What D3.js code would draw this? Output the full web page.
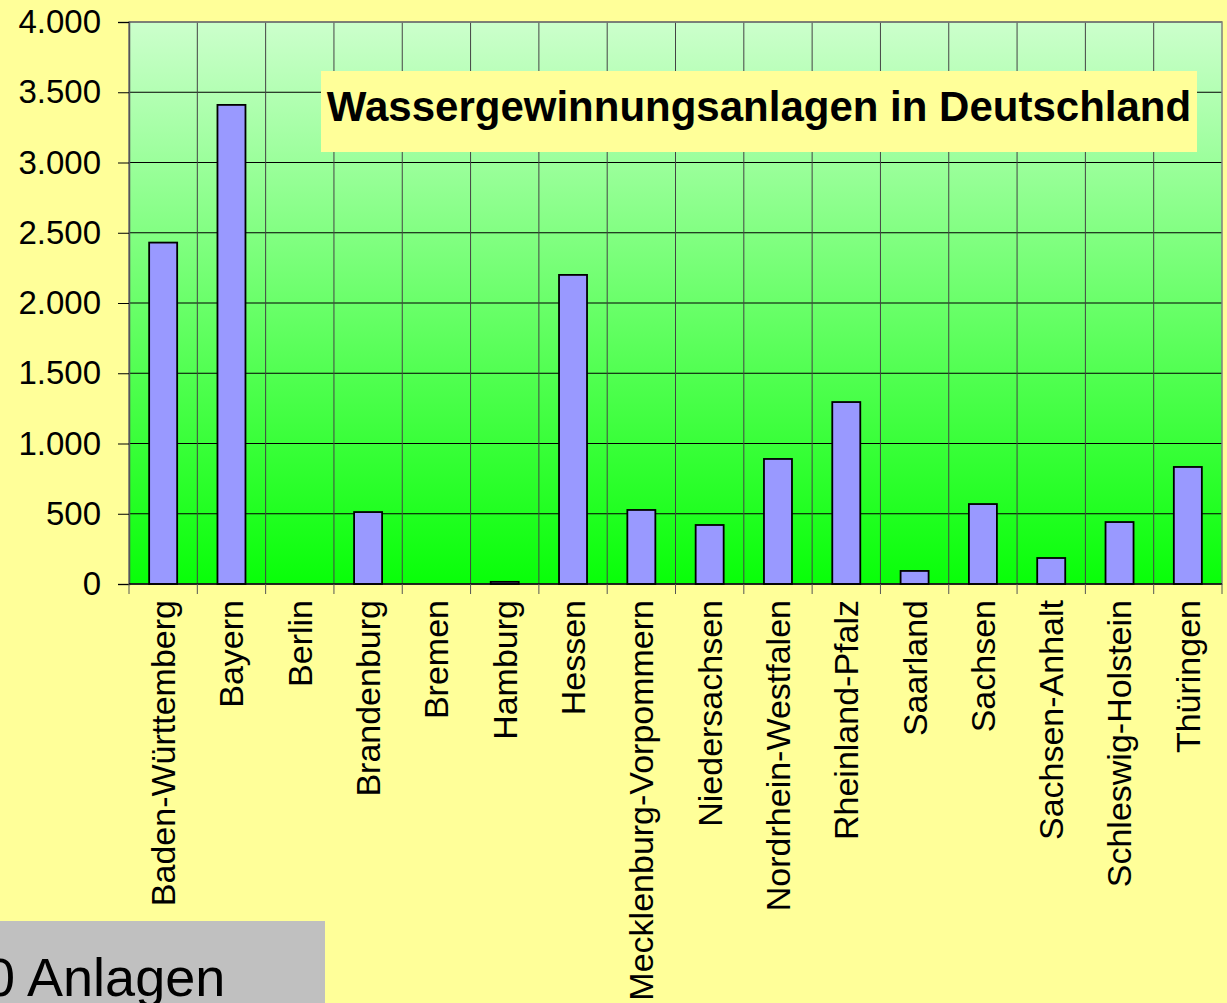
<!DOCTYPE html>
<html>
<head>
<meta charset="utf-8">
<script src="https://cdn.jsdelivr.net/npm/d3@7"></script>
<style>
  html, body { margin: 0; padding: 0; background: #ffff99; overflow: hidden; }
  svg { display: block; }
</style>
</head>
<body>
<div id="main"></div>
<script>
// data
var states = ["Baden-Württemberg", "Bayern", "Berlin", "Brandenburg", "Bremen", "Hamburg", "Hessen",
  "Mecklenburg-Vorpommern", "Niedersachsen", "Nordrhein-Westfalen", "Rheinland-Pfalz", "Saarland",
  "Sachsen", "Sachsen-Anhalt", "Schleswig-Holstein", "Thüringen"];
var anlagen = [2430, 3410, 0, 512, 0, 15, 2200, 527, 420, 890, 1295, 93, 569, 185, 441, 833];
var yTicks = [0, 500, 1000, 1500, 2000, 2500, 3000, 3500, 4000];
var title = "Wassergewinnungsanlagen in Deutschland";
var footnote = "0 Anlagen";

// layout
var width = 1227, height = 1003;
var plotLeft = 129, plotRight = 1222, plotTop = 22, plotBottom = 584;
var font = "Arial, 'Liberation Sans', sans-serif";

var svg = d3.select("#main").append("svg")
    .attr("width", width)
    .attr("height", height);

svg.append("rect")
    .attr("width", width).attr("height", height)
    .attr("fill", "#ffff99");

var grad = svg.append("defs").append("linearGradient")
    .attr("id", "bg")
    .attr("x1", 0).attr("y1", 0).attr("x2", 0).attr("y2", 1);
grad.append("stop").attr("offset", "0%").attr("stop-color", "#ccffcc");
grad.append("stop").attr("offset", "100%").attr("stop-color", "#08ff08");

var x = d3.scaleBand().domain(states).range([plotLeft, plotRight]).paddingInner(0).paddingOuter(0);
var y = d3.scaleLinear().domain([0, 4000]).range([plotBottom, plotTop]);

svg.append("rect")
    .attr("x", plotLeft).attr("y", plotTop)
    .attr("width", plotRight - plotLeft).attr("height", plotBottom - plotTop)
    .attr("fill", "url(#bg)");

// horizontal gridlines
svg.append("g").selectAll("line")
    .data(yTicks.slice(1))
    .join("line")
    .attr("x1", plotLeft).attr("x2", plotRight)
    .attr("y1", d => y(d)).attr("y2", d => y(d))
    .attr("stroke", "#000").attr("stroke-width", 1);

// vertical gridlines at category boundaries
svg.append("g").selectAll("line")
    .data(states.slice(1))
    .join("line")
    .attr("x1", d => x(d)).attr("x2", d => x(d))
    .attr("y1", plotTop).attr("y2", plotBottom)
    .attr("stroke", "#444").attr("stroke-width", 1);

// plot frame
svg.append("rect")
    .attr("x", plotLeft).attr("y", plotTop)
    .attr("width", plotRight - plotLeft).attr("height", plotBottom - plotTop)
    .attr("fill", "none").attr("stroke", "#808080").attr("stroke-width", 1.5);

// bars
var bw = x.bandwidth() * 0.41;
svg.append("g").selectAll("rect")
    .data(anlagen)
    .join("rect")
    .attr("x", (d, i) => x(states[i]) + (x.bandwidth() - bw) / 2)
    .attr("y", d => y(d))
    .attr("width", bw)
    .attr("height", d => plotBottom - y(d))
    .attr("fill", d => d > 0 ? "#9999ff" : "none")
    .attr("stroke", d => d > 0 ? "#000" : "none")
    .attr("stroke-width", 1.8);

// y axis
var yAxis = svg.append("g")
    .attr("transform", "translate(" + plotLeft + ",0)")
    .call(d3.axisLeft(y).tickValues(yTicks).tickSize(11).tickPadding(17)
      .tickFormat(d => d3.format(",")(d).replace(/,/g, ".")));
yAxis.select(".domain").attr("stroke", "#555").attr("stroke-width", 1.5);
yAxis.selectAll(".tick line").attr("stroke", "#000");
yAxis.selectAll("text")
    .attr("font-family", font).attr("font-size", "33px").attr("fill", "#000");

// x axis line and ticks
svg.append("line")
    .attr("x1", plotLeft).attr("x2", plotRight)
    .attr("y1", plotBottom).attr("y2", plotBottom)
    .attr("stroke", "#000").attr("stroke-width", 1.5);
var bounds = states.map(s => x(s)).concat([plotRight]);
svg.append("g").selectAll("line")
    .data(bounds)
    .join("line")
    .attr("x1", d => d).attr("x2", d => d)
    .attr("y1", plotBottom).attr("y2", plotBottom + 10)
    .attr("stroke", "#555").attr("stroke-width", 1);

// category labels
svg.append("g").selectAll("text")
    .data(states)
    .join("text")
    .attr("transform", d => "translate(" + (x(d) + x.bandwidth() / 2) + "," + (plotBottom + 16) + ") rotate(-90)")
    .attr("text-anchor", "end")
    .attr("dy", "0.35em")
    .attr("font-family", font).attr("font-size", "34px").attr("fill", "#000")
    .text(d => d);

// title box
svg.append("rect")
    .attr("x", 321).attr("y", 71)
    .attr("width", 876).attr("height", 81)
    .attr("fill", "#ffff99");
svg.append("text")
    .attr("x", 759).attr("y", 121)
    .attr("text-anchor", "middle")
    .attr("font-family", font).attr("font-size", "42px").attr("font-weight", "bold")
    .attr("fill", "#000")
    .text(title);

// grey footnote box
svg.append("rect")
    .attr("x", 0).attr("y", 921)
    .attr("width", 325).attr("height", 90)
    .attr("fill", "#c0c0c0");
svg.append("text")
    .attr("x", -15).attr("y", 996)
    .attr("font-family", font).attr("font-size", "54px").attr("fill", "#000")
    .text(footnote);
</script>
</body>
</html>
